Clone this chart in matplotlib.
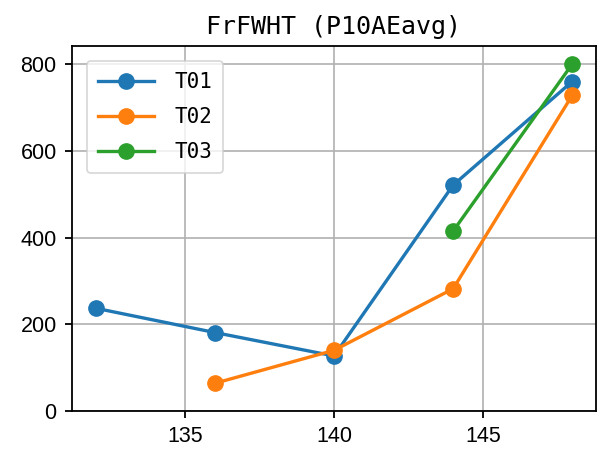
import matplotlib
matplotlib.use("Agg")
import matplotlib.pyplot as plt

# data
x_t01 = [132, 136, 140, 144, 148]
y_t01 = [237, 181, 127, 521, 760]
x_t02 = [136, 140, 144, 148]
y_t02 = [64, 140, 282, 728]
x_t03 = [144, 148]
y_t03 = [415, 800]

title = 'FrFWHT (P10AEavg)'
mono = ['DejaVu Sans Mono']

plt.rcParams['font.family'] = ['Liberation Sans', 'DejaVu Sans']

fig = plt.figure(figsize=(5.99, 4.55), dpi=100)
ax = fig.add_axes([72/599, 44/455, 524/599, 365/455])

kw = dict(marker='o', markersize=11, linewidth=2.4)
ax.plot(x_t01, y_t01, color='#1f77b4', label='T01', **kw)
ax.plot(x_t02, y_t02, color='#ff7f0e', label='T02', **kw)
ax.plot(x_t03, y_t03, color='#2ca02c', label='T03', **kw)

ax.set_xlim(131.2, 148.8)
ax.set_ylim(0, 842)
ax.set_xticks([135, 140, 145])
ax.set_yticks([0, 200, 400, 600, 800])
ax.tick_params(labelsize=15.5, width=1.3, length=5, pad=6)
for s in ax.spines.values():
    s.set_linewidth(1.3)
ax.grid(True, color='#b0b0b0', linewidth=1.2)
ax.set_axisbelow(True)

ax.set_title(title, fontsize=18, family=mono, pad=8.5)
leg = ax.legend(loc='upper left', prop={'family': mono, 'size': 15},
                handlelength=2.7, handletextpad=0.95, borderpad=0.55,
                labelspacing=0.72, borderaxespad=0.7)
leg.get_frame().set_linewidth(1.2)

fig.savefig('out.png', dpi=100)
